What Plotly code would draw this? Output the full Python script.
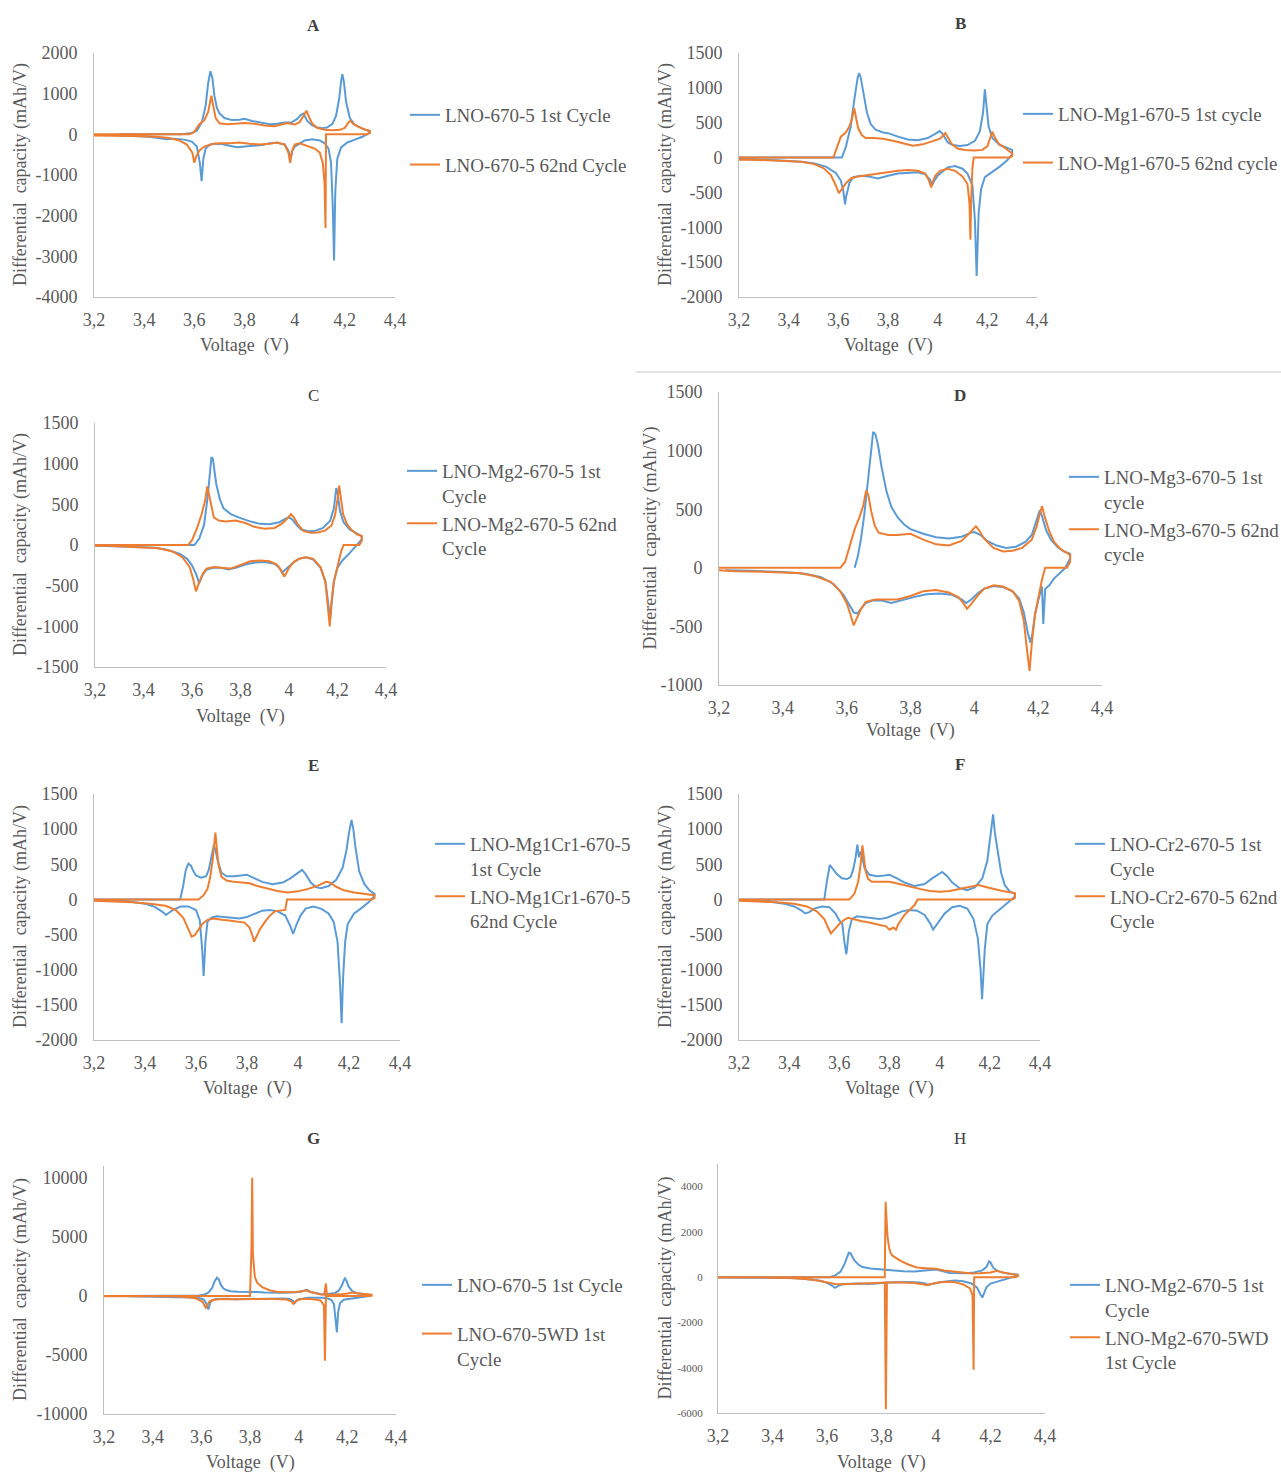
import plotly.graph_objects as go

# ---------------- data (V, dQ/dV in mAh/V) ----------------
X_TICKS = [3.2, 3.4, 3.6, 3.8, 4.0, 4.2, 4.4]
X_TICK_LABELS = ["3,2", "3,4", "3,6", "3,8", "4", "4,2", "4,4"]

A_YTICKS = [-4000, -3000, -2000, -1000, 0, 1000, 2000]
B_YTICKS = [-2000, -1500, -1000, -500, 0, 500, 1000, 1500]
C_YTICKS = [-1500, -1000, -500, 0, 500, 1000, 1500]
D_YTICKS = [-1000, -500, 0, 500, 1000, 1500]
E_YTICKS = [-2000, -1500, -1000, -500, 0, 500, 1000, 1500]
F_YTICKS = [-2000, -1500, -1000, -500, 0, 500, 1000, 1500]
G_YTICKS = [-10000, -5000, 0, 5000, 10000]
H_YTICKS = [-6000, -4000, -2000, 0, 2000, 4000]

# LNO-670-5 1st cycle (panels A and G)
A_1st = [(3.30, 0), (3.45, 0), (3.55, 5), (3.59, 30), (3.61, 90), (3.63, 300), (3.645, 700), (3.655, 1250),
         (3.664, 1550), (3.672, 1380), (3.68, 950), (3.69, 650), (3.70, 520), (3.72, 400), (3.75, 350),
         (3.78, 360), (3.80, 380), (3.83, 330), (3.86, 290), (3.90, 250), (3.93, 260), (3.96, 290), (3.99, 300),
         (4.01, 380), (4.025, 480), (4.035, 510), (4.05, 330), (4.07, 220), (4.09, 170), (4.11, 150), (4.13, 170),
         (4.15, 250), (4.165, 450), (4.178, 900), (4.185, 1300), (4.19, 1480), (4.196, 1300), (4.205, 800),
         (4.22, 400), (4.24, 230), (4.27, 140), (4.30, 70),
         (4.30, 40), (4.29, 0), (4.27, -60), (4.24, -130), (4.21, -200), (4.185, -320), (4.17, -600),
         (4.162, -1400), (4.157, -3100), (4.152, -1800), (4.145, -700), (4.135, -350), (4.12, -220), (4.10, -150),
         (4.07, -120), (4.04, -150), (4.02, -220), (4.0, -300), (3.99, -420), (3.984, -600), (3.975, -400),
         (3.96, -250), (3.93, -210), (3.90, -220), (3.87, -260), (3.84, -280), (3.80, -300), (3.77, -320),
         (3.74, -280), (3.71, -240), (3.68, -230), (3.66, -260), (3.645, -350), (3.636, -600), (3.629, -1150),
         (3.622, -700), (3.61, -300), (3.59, -180), (3.56, -130), (3.52, -110), (3.49, -120), (3.46, -90),
         (3.42, -60), (3.36, -40), (3.30, -30)]

A_62nd = [(3.20, 0), (3.40, 0), (3.58, 0), (3.60, 60), (3.62, 250), (3.64, 350), (3.655, 550), (3.668, 950),
          (3.675, 700), (3.685, 400), (3.70, 270), (3.73, 250), (3.76, 260), (3.80, 280), (3.84, 260), (3.88, 220),
          (3.92, 200), (3.95, 240), (3.97, 280), (4.00, 240), (4.02, 300), (4.035, 450), (4.047, 580),
          (4.057, 430), (4.07, 260), (4.09, 160), (4.12, 110), (4.15, 100), (4.18, 110), (4.20, 160), (4.215, 300),
          (4.222, 330), (4.235, 250), (4.26, 170), (4.28, 120), (4.30, 90),
          (4.30, 40), (4.29, 0), (4.20, 0), (4.125, 0), (4.123, -2300), (4.119, -1200), (4.112, -700),
          (4.10, -450), (4.08, -350), (4.05, -280), (4.02, -220), (4.00, -250), (3.99, -400), (3.982, -700),
          (3.975, -450), (3.96, -250), (3.93, -200), (3.90, -230), (3.86, -250), (3.82, -230), (3.78, -200),
          (3.74, -220), (3.70, -220), (3.67, -240), (3.64, -300), (3.62, -400), (3.607, -550), (3.60, -700),
          (3.592, -450), (3.57, -250), (3.54, -150), (3.50, -90), (3.45, -60), (3.35, -40), (3.25, -30), (3.20, -30)]

B_1st = [(3.20, 0), (3.40, 0), (3.60, 0), (3.614, 0), (3.63, 150), (3.65, 450), (3.665, 850), (3.678, 1150),
         (3.684, 1210), (3.69, 1150), (3.70, 950), (3.715, 650), (3.73, 480), (3.75, 400), (3.78, 360), (3.80, 350),
         (3.84, 300), (3.88, 260), (3.92, 250), (3.96, 280), (3.99, 340), (4.008, 380), (4.02, 340), (4.04, 220),
         (4.06, 180), (4.09, 165), (4.12, 180), (4.15, 240), (4.17, 380), (4.183, 650), (4.19, 980), (4.197, 750),
         (4.205, 450), (4.22, 280), (4.25, 180), (4.28, 140), (4.30, 110),
         (4.30, 50), (4.28, -40), (4.25, -130), (4.22, -200), (4.19, -280), (4.175, -450), (4.165, -800),
         (4.157, -1700), (4.15, -900), (4.14, -400), (4.12, -230), (4.10, -160), (4.07, -120), (4.04, -140),
         (4.02, -200), (4.00, -260), (3.985, -340), (3.977, -400), (3.97, -320), (3.95, -240), (3.92, -210),
         (3.88, -215), (3.84, -230), (3.80, -260), (3.76, -300), (3.72, -270), (3.69, -260), (3.66, -280),
         (3.645, -360), (3.632, -550), (3.627, -670), (3.62, -480), (3.61, -330), (3.59, -220), (3.55, -130),
         (3.50, -80), (3.45, -60), (3.35, -40), (3.25, -25), (3.20, -20)]

B_62nd = [(3.20, 0), (3.40, 0), (3.58, 0), (3.595, 150), (3.61, 300), (3.63, 360), (3.645, 450), (3.655, 560),
          (3.664, 710), (3.672, 560), (3.68, 420), (3.695, 320), (3.71, 280), (3.74, 280), (3.78, 270), (3.82, 240),
          (3.86, 200), (3.90, 170), (3.94, 190), (3.98, 230), (4.01, 270), (4.025, 330), (4.031, 350), (4.04, 300),
          (4.055, 200), (4.08, 130), (4.11, 110), (4.15, 100), (4.18, 110), (4.20, 160), (4.212, 280), (4.22, 370),
          (4.23, 290), (4.245, 200), (4.27, 140), (4.30, 60),
          (4.30, 20), (4.29, 0), (4.20, 0), (4.145, 0), (4.14, -150), (4.135, -600), (4.132, -1180), (4.128, -650),
          (4.12, -380), (4.10, -270), (4.07, -190), (4.04, -160), (4.01, -190), (3.99, -260), (3.98, -350),
          (3.974, -430), (3.965, -330), (3.95, -230), (3.92, -190), (3.88, -180), (3.84, -190), (3.80, -210),
          (3.76, -240), (3.72, -250), (3.68, -270), (3.65, -300), (3.63, -370), (3.615, -450), (3.602, -510),
          (3.59, -400), (3.57, -250), (3.54, -150), (3.50, -90), (3.45, -60), (3.35, -40), (3.25, -30), (3.20, -30)]

# LNO-Mg2-670-5 1st cycle (panels C and H)
C_1st = [(3.20, 0), (3.40, 0), (3.58, 0), (3.61, 0), (3.63, 80), (3.65, 250), (3.665, 600), (3.675, 950),
         (3.68, 1080), (3.686, 1060), (3.693, 900), (3.70, 750), (3.715, 560), (3.73, 450), (3.76, 380),
         (3.80, 330), (3.84, 290), (3.88, 260), (3.92, 255), (3.96, 280), (3.99, 330), (4.00, 340), (4.015, 310),
         (4.03, 250), (4.05, 190), (4.08, 170), (4.11, 175), (4.14, 210), (4.17, 300), (4.185, 450), (4.195, 700),
         (4.20, 650), (4.21, 420), (4.225, 280), (4.25, 190), (4.28, 140), (4.30, 110),
         (4.30, 70), (4.28, 0), (4.25, -100), (4.22, -190), (4.20, -280), (4.185, -450), (4.175, -700),
         (4.17, -900), (4.163, -750), (4.15, -450), (4.13, -280), (4.10, -180), (4.07, -150), (4.04, -170),
         (4.02, -210), (4.00, -260), (3.985, -300), (3.971, -340), (3.96, -280), (3.94, -230), (3.90, -210),
         (3.86, -215), (3.82, -240), (3.78, -280), (3.75, -300), (3.72, -280), (3.69, -280), (3.66, -300),
         (3.645, -360), (3.635, -430), (3.629, -470), (3.62, -380), (3.60, -250), (3.58, -170), (3.55, -110),
         (3.50, -60), (3.45, -35), (3.35, -20), (3.25, -10), (3.20, -10)]

C_62nd = [(3.20, 0), (3.40, 0), (3.584, 0), (3.60, 60), (3.62, 200), (3.64, 380), (3.655, 560), (3.663, 720),
          (3.67, 620), (3.68, 450), (3.69, 340), (3.71, 300), (3.74, 290), (3.78, 300), (3.82, 270), (3.86, 220),
          (3.90, 200), (3.94, 210), (3.97, 260), (3.995, 330), (4.008, 380), (4.02, 340), (4.035, 260),
          (4.06, 170), (4.09, 150), (4.12, 155), (4.15, 180), (4.175, 240), (4.19, 370), (4.20, 560), (4.207, 730),
          (4.213, 600), (4.223, 380), (4.24, 250), (4.26, 180), (4.28, 130), (4.30, 110),
          (4.30, 50), (4.29, 0), (4.26, 0), (4.225, 0), (4.215, -80), (4.20, -250), (4.185, -450), (4.175, -700),
          (4.168, -1000), (4.16, -750), (4.15, -450), (4.13, -270), (4.10, -170), (4.07, -150), (4.04, -170),
          (4.02, -210), (4.00, -280), (3.988, -350), (3.98, -390), (3.97, -320), (3.95, -240), (3.92, -200),
          (3.88, -190), (3.84, -200), (3.80, -250), (3.76, -290), (3.72, -280), (3.69, -270), (3.66, -290),
          (3.645, -350), (3.63, -460), (3.616, -570), (3.605, -420), (3.59, -270), (3.56, -150), (3.52, -80),
          (3.46, -40), (3.35, -20), (3.25, -10), (3.20, -10)]

D_1st = [(3.625, 0), (3.635, 100), (3.645, 250), (3.655, 450), (3.665, 700), (3.675, 950), (3.683, 1160),
         (3.69, 1140), (3.698, 1050), (3.71, 850), (3.725, 650), (3.74, 520), (3.76, 430), (3.78, 370),
         (3.80, 330), (3.84, 290), (3.88, 260), (3.92, 250), (3.96, 265), (3.99, 300), (4.00, 305), (4.02, 280),
         (4.04, 230), (4.07, 190), (4.10, 170), (4.13, 180), (4.16, 220), (4.18, 280), (4.195, 400), (4.205, 490),
         (4.212, 440), (4.225, 320), (4.24, 240), (4.26, 180), (4.28, 140), (4.30, 120),
         (4.30, 80), (4.285, 0), (4.27, -40), (4.25, -90), (4.235, -150), (4.222, -180), (4.216, -480),
         (4.212, -160), (4.20, -280), (4.19, -400), (4.182, -560), (4.176, -640), (4.168, -560), (4.155, -380),
         (4.14, -260), (4.12, -200), (4.09, -165), (4.06, -155), (4.03, -180), (4.01, -220), (3.99, -270),
         (3.975, -300), (3.96, -270), (3.93, -230), (3.89, -220), (3.85, -225), (3.81, -250), (3.77, -280),
         (3.74, -300), (3.71, -280), (3.68, -280), (3.66, -300), (3.645, -350), (3.633, -390), (3.622, -380),
         (3.61, -320), (3.59, -230), (3.56, -140), (3.52, -80), (3.47, -50), (3.40, -35), (3.30, -25), (3.22, -20)]

D_62nd = [(3.20, 0), (3.40, 0), (3.58, 0), (3.595, 50), (3.61, 180), (3.625, 330), (3.64, 430), (3.652, 530),
          (3.661, 660), (3.668, 620), (3.677, 480), (3.688, 360), (3.70, 300), (3.73, 280), (3.76, 280),
          (3.80, 290), (3.84, 240), (3.88, 200), (3.92, 190), (3.96, 230), (3.99, 310), (4.005, 355), (4.015, 320),
          (4.03, 250), (4.06, 170), (4.09, 140), (4.12, 145), (4.15, 170), (4.18, 240), (4.195, 350), (4.205, 460),
          (4.212, 525), (4.22, 440), (4.235, 310), (4.25, 220), (4.27, 160), (4.30, 110),
          (4.30, 50), (4.29, 0), (4.26, 0), (4.222, 0), (4.212, -100), (4.20, -250), (4.19, -400), (4.18, -650),
          (4.173, -880), (4.165, -700), (4.155, -450), (4.14, -280), (4.12, -200), (4.09, -160), (4.06, -150),
          (4.03, -180), (4.01, -240), (3.99, -310), (3.977, -350), (3.965, -300), (3.95, -250), (3.92, -210),
          (3.88, -190), (3.84, -200), (3.80, -240), (3.76, -270), (3.72, -270), (3.69, -270), (3.66, -290),
          (3.645, -350), (3.632, -430), (3.622, -490), (3.612, -400), (3.60, -300), (3.58, -200), (3.55, -120),
          (3.50, -70), (3.45, -45), (3.35, -35), (3.25, -30), (3.20, -20)]

E_1st = [(3.20, 0), (3.40, 0), (3.538, 0), (3.55, 200), (3.56, 420), (3.57, 510), (3.58, 480), (3.59, 400),
         (3.60, 340), (3.62, 310), (3.64, 330), (3.65, 420), (3.66, 600), (3.67, 770), (3.677, 700), (3.685, 550),
         (3.70, 380), (3.72, 330), (3.75, 330), (3.78, 340), (3.80, 350), (3.83, 300), (3.86, 250), (3.90, 215),
         (3.94, 240), (3.97, 300), (4.00, 380), (4.016, 420), (4.03, 360), (4.05, 240), (4.07, 175), (4.09, 160),
         (4.12, 190), (4.15, 280), (4.175, 450), (4.19, 700), (4.20, 950), (4.21, 1130), (4.217, 1000),
         (4.225, 750), (4.24, 400), (4.26, 220), (4.28, 130), (4.30, 80),
         (4.30, 50), (4.28, -30), (4.25, -120), (4.22, -200), (4.195, -350), (4.185, -600), (4.177, -1100),
         (4.171, -1760), (4.165, -1200), (4.155, -600), (4.14, -320), (4.12, -200), (4.09, -130), (4.06, -100),
         (4.03, -130), (4.01, -230), (3.995, -350), (3.981, -490), (3.97, -380), (3.95, -230), (3.92, -170),
         (3.89, -150), (3.86, -160), (3.83, -200), (3.80, -250), (3.77, -270), (3.74, -260), (3.71, -240),
         (3.68, -240), (3.66, -260), (3.645, -320), (3.637, -600), (3.63, -1090), (3.624, -700), (3.615, -300),
         (3.60, -150), (3.57, -100), (3.54, -100), (3.51, -150), (3.49, -200), (3.482, -220), (3.47, -180),
         (3.44, -110), (3.40, -60), (3.35, -35), (3.28, -20), (3.20, -10)]

E_62nd = [(3.20, 0), (3.40, 0), (3.61, 0), (3.63, 60), (3.645, 150), (3.655, 300), (3.665, 550), (3.672, 800),
          (3.676, 950), (3.681, 750), (3.688, 500), (3.70, 320), (3.72, 270), (3.75, 250), (3.78, 240), (3.81, 230),
          (3.84, 190), (3.88, 150), (3.92, 120), (3.96, 100), (4.00, 115), (4.04, 150), (4.08, 200), (4.11, 250),
          (4.125, 240), (4.15, 180), (4.18, 130), (4.22, 100), (4.26, 80), (4.30, 60),
          (4.30, 20), (4.29, 0), (4.20, 0), (4.10, 0), (4.00, 0), (3.957, 0), (3.95, -150), (3.93, -160),
          (3.909, -170), (3.89, -230), (3.87, -320), (3.85, -430), (3.835, -560), (3.828, -600), (3.82, -500),
          (3.81, -400), (3.79, -330), (3.76, -310), (3.73, -300), (3.70, -290), (3.67, -270), (3.645, -290),
          (3.625, -350), (3.61, -430), (3.595, -510), (3.583, -530), (3.57, -420), (3.55, -260), (3.52, -150),
          (3.48, -90), (3.42, -60), (3.35, -40), (3.25, -25), (3.20, -20)]

F_1st = [(3.20, 0), (3.40, 0), (3.54, 0), (3.55, 250), (3.562, 490), (3.575, 430), (3.59, 360), (3.61, 300),
         (3.63, 290), (3.645, 320), (3.655, 420), (3.665, 600), (3.672, 780), (3.678, 600), (3.685, 680),
         (3.692, 600), (3.70, 450), (3.72, 350), (3.75, 330), (3.78, 340), (3.80, 350), (3.83, 300), (3.86, 240),
         (3.90, 190), (3.94, 220), (3.97, 300), (4.00, 370), (4.01, 390), (4.03, 330), (4.05, 240), (4.08, 160),
         (4.11, 130), (4.14, 170), (4.17, 300), (4.19, 550), (4.205, 950), (4.213, 1210), (4.22, 950), (4.23, 700),
         (4.245, 380), (4.26, 200), (4.28, 110), (4.30, 80),
         (4.30, 40), (4.27, -50), (4.24, -140), (4.21, -230), (4.19, -350), (4.18, -700), (4.174, -1100),
         (4.169, -1420), (4.163, -1000), (4.152, -550), (4.135, -280), (4.11, -130), (4.08, -90), (4.05, -110),
         (4.02, -200), (4.00, -300), (3.985, -390), (3.974, -430), (3.962, -340), (3.94, -220), (3.91, -160),
         (3.88, -150), (3.85, -170), (3.82, -220), (3.79, -260), (3.76, -280), (3.73, -270), (3.70, -250),
         (3.67, -240), (3.65, -280), (3.638, -450), (3.628, -780), (3.62, -600), (3.612, -350), (3.60, -300),
         (3.585, -200), (3.56, -110), (3.53, -100), (3.50, -130), (3.48, -180), (3.464, -200), (3.45, -160),
         (3.42, -100), (3.38, -60), (3.32, -30), (3.25, -15), (3.20, -10)]

F_62nd = [(3.20, 0), (3.40, 0), (3.60, 0), (3.64, 0), (3.66, 80), (3.675, 250), (3.685, 500), (3.692, 770),
          (3.698, 600), (3.705, 400), (3.715, 290), (3.73, 250), (3.76, 250), (3.80, 250), (3.84, 220), (3.88, 180),
          (3.92, 150), (3.96, 120), (4.00, 110), (4.04, 120), (4.08, 150), (4.12, 180), (4.156, 205), (4.18, 180),
          (4.21, 150), (4.25, 120), (4.30, 90),
          (4.30, 20), (4.29, 0), (4.20, 0), (4.00, 0), (3.912, 0), (3.90, -80), (3.879, -150), (3.86, -220),
          (3.845, -300), (3.834, -360), (3.826, -430), (3.815, -400), (3.80, -430), (3.785, -380), (3.77, -370),
          (3.75, -350), (3.73, -340), (3.71, -320), (3.69, -310), (3.67, -290), (3.65, -270), (3.635, -260),
          (3.62, -290), (3.60, -350), (3.58, -430), (3.566, -484), (3.555, -400), (3.54, -280), (3.51, -170),
          (3.47, -100), (3.42, -60), (3.35, -40), (3.25, -25), (3.20, -20)]

G_WD = [(3.20, 0), (3.40, 0), (3.60, 0), (3.80, 0), (3.806, 4000), (3.809, 10000), (3.812, 3500), (3.816, 2000),
        (3.82, 1600), (3.83, 1100), (3.85, 750), (3.88, 480), (3.91, 360), (3.95, 310), (3.99, 330), (4.02, 420),
        (4.03, 480), (4.045, 350), (4.07, 200), (4.09, 120), (4.105, 100), (4.112, 1050), (4.116, 100),
        (4.14, 100), (4.17, 130), (4.20, 200), (4.22, 280), (4.24, 220), (4.27, 150), (4.30, 100),
        (4.30, 30), (4.29, 0), (4.20, 0), (4.112, 0), (4.108, -5480), (4.104, -800), (4.09, -380), (4.06, -280),
        (4.03, -250), (4.00, -300), (3.985, -500), (3.978, -680), (3.97, -450), (3.95, -300), (3.90, -260),
        (3.85, -280), (3.80, -300), (3.75, -280), (3.70, -270), (3.66, -300), (3.635, -450), (3.618, -1000),
        (3.605, -500), (3.58, -220), (3.55, -120), (3.50, -60), (3.40, -30), (3.30, -20), (3.20, -20)]

H_WD = [(3.20, 0), (3.40, 0), (3.60, 0), (3.812, 0), (3.815, 3330), (3.818, 2600), (3.822, 1800), (3.828, 1300),
        (3.833, 1080), (3.84, 950), (3.85, 880), (3.87, 720), (3.90, 550), (3.93, 430), (3.96, 400), (4.00, 370),
        (4.03, 300), (4.06, 250), (4.10, 200), (4.13, 160), (4.16, 170), (4.20, 210), (4.225, 280), (4.24, 220),
        (4.27, 150), (4.30, 100),
        (4.30, 40), (4.29, 0), (4.20, 0), (4.14, 0), (4.138, -4090), (4.134, -800), (4.125, -500), (4.10, -320),
        (4.07, -220), (4.04, -200), (4.01, -240), (3.98, -330), (3.965, -350), (3.95, -310), (3.92, -260),
        (3.88, -240), (3.85, -230), (3.82, -240), (3.816, -5830), (3.812, -240), (3.78, -260), (3.74, -280),
        (3.70, -300), (3.66, -310), (3.63, -300), (3.60, -220), (3.56, -140), (3.52, -80), (3.47, -40),
        (3.40, -20), (3.30, -10), (3.20, -10)]

# ---------------- styling ----------------
W, H = 1281, 1472
BLUE, ORANGE = "#5B9BD5", "#ED7D31"
GRAY_TXT, AX_LINE = "#595959", "#BFBFBF"
FONT = "Liberation Serif, Times New Roman, serif"
LEG_FS = 19

# lx = legend text start (px), ly = centre of first legend line (px)
panels = [
    dict(letter="A", bold=True, xd=(94, 395), yd=(53, 297), yr=(-4000, 2000), yt=A_YTICKS, tx=313, ty=25,
         ytx=20, xty=346, lx=445, ly=114, gap=22, yfs=18,
         series=[(A_1st, BLUE, "LNO-670-5 1st Cycle"), (A_62nd, ORANGE, "LNO-670-5 62nd Cycle")]),
    dict(letter="B", bold=True, xd=(739, 1037), yd=(53, 297), yr=(-2000, 1500), yt=B_YTICKS, tx=960, ty=24,
         ytx=665, xty=346, lx=1058, ly=113, gap=21, yfs=18,
         series=[(B_1st, BLUE, "LNO-Mg1-670-5 1st cycle"), (B_62nd, ORANGE, "LNO-Mg1-670-5 62nd cycle")]),
    dict(letter="C", bold=False, xd=(95, 386), yd=(423, 667), yr=(-1500, 1500), yt=C_YTICKS, tx=313, ty=395,
         ytx=20, xty=716, lx=442, ly=470, gap=0, yfs=18,
         series=[(C_1st, BLUE, "LNO-Mg2-670-5 1st<br>Cycle"), (C_62nd, ORANGE, "LNO-Mg2-670-5 62nd<br>Cycle")]),
    dict(letter="D", bold=True, xd=(719, 1102), yd=(392, 685), yr=(-1000, 1500), yt=D_YTICKS, tx=960, ty=395,
         ytx=650, xty=730, lx=1104, ly=476, gap=0, yfs=18,
         series=[(D_1st, BLUE, "LNO-Mg3-670-5 1st<br>cycle"), (D_62nd, ORANGE, "LNO-Mg3-670-5 62nd<br>cycle")]),
    dict(letter="E", bold=True, xd=(94, 400), yd=(794, 1040), yr=(-2000, 1500), yt=E_YTICKS, tx=313, ty=765,
         ytx=20, xty=1088, lx=470, ly=843, gap=0, yfs=18,
         series=[(E_1st, BLUE, "LNO-Mg1Cr1-670-5<br>1st Cycle"), (E_62nd, ORANGE, "LNO-Mg1Cr1-670-5<br>62nd Cycle")]),
    dict(letter="F", bold=True, xd=(739, 1040), yd=(794, 1040), yr=(-2000, 1500), yt=F_YTICKS, tx=960, ty=764,
         ytx=665, xty=1088, lx=1110, ly=843, gap=0, yfs=18,
         series=[(F_1st, BLUE, "LNO-Cr2-670-5 1st<br>Cycle"), (F_62nd, ORANGE, "LNO-Cr2-670-5 62nd<br>Cycle")]),
    dict(letter="G", bold=True, xd=(104, 396), yd=(1166, 1414), yr=(-10000, 11000), yt=G_YTICKS, tx=313, ty=1138,
         ytx=20, xty=1462, lx=457, ly=1284, gap=21, yfs=18,
         series=[(A_1st, BLUE, "LNO-670-5 1st Cycle"), (G_WD, ORANGE, "LNO-670-5WD 1st<br>Cycle")]),
    dict(letter="H", bold=False, xd=(718, 1045), yd=(1164, 1413), yr=(-6000, 5000), yt=H_YTICKS, tx=960, ty=1138,
         ytx=665, xty=1462, lx=1105, ly=1284, gap=0, yfs=11,
         series=[(C_1st, BLUE, "LNO-Mg2-670-5 1st<br>Cycle"), (H_WD, ORANGE, "LNO-Mg2-670-5WD<br>1st Cycle")]),
]


def fx(p):
    return p / W


def fy(p):
    return 1 - p / H


fig = go.Figure()
layout = dict(width=W, height=H, margin=dict(l=0, r=0, t=0, b=0, autoexpand=False), paper_bgcolor="white",
              plot_bgcolor="white", font=dict(family=FONT, color=GRAY_TXT), showlegend=True)
annotations, shapes = [], []

for i, p in enumerate(panels, start=1):
    sfx = "" if i == 1 else str(i)
    xa, ya, lg = "xaxis" + sfx, "yaxis" + sfx, "legend" + sfx
    for k, (pts, color, name) in enumerate(p["series"]):
        v, q = zip(*pts)
        fig.add_trace(go.Scatter(x=list(v), y=list(q), mode="lines", name=name,
                                 line=dict(color=color, width=2), xaxis="x" + sfx, yaxis="y" + sfx,
                                 legend=lg, legendgroup=f"{p['letter']}{k}", hoverinfo="skip"))
    layout[xa] = dict(domain=[fx(p["xd"][0]), fx(p["xd"][1])], range=[3.2, 4.4], anchor="y" + sfx,
                      tickmode="array", tickvals=X_TICKS, ticktext=X_TICK_LABELS, showline=True,
                      linecolor=AX_LINE, linewidth=1, showgrid=False, zeroline=False, ticks="",
                      tickfont=dict(size=18, color=GRAY_TXT, family=FONT), ticklabelstandoff=6,
                      fixedrange=True, automargin=False)
    layout[ya] = dict(domain=[fy(p["yd"][1]), fy(p["yd"][0])], range=list(p["yr"]), anchor="x" + sfx,
                      tickmode="array", tickvals=p["yt"], ticktext=[str(t) for t in p["yt"]], showline=True,
                      linecolor=AX_LINE, linewidth=1, showgrid=False, zeroline=False, ticks="",
                      tickfont=dict(size=p["yfs"], color=GRAY_TXT, family=FONT), ticklabelstandoff=12,
                      fixedrange=True, automargin=False)
    layout[lg] = dict(x=fx(p["lx"] - 40), y=fy(p["ly"] - 18), xref="container", yref="container",
                      xanchor="left", yanchor="top",
                      bgcolor="rgba(0,0,0,0)", font=dict(size=LEG_FS, color=GRAY_TXT, family=FONT),
                      tracegroupgap=p["gap"], valign="top", traceorder="grouped")
    title_txt = f"<b>{p['letter']}</b>" if p["bold"] else p["letter"]
    annotations.append(dict(x=fx(p["tx"]), y=fy(p["ty"]), xref="paper", yref="paper", text=title_txt,
                            showarrow=False, font=dict(size=17, color="#404040", family=FONT),
                            xanchor="center", yanchor="middle"))
    annotations.append(dict(x=fx((p["xd"][0] + p["xd"][1]) / 2), y=fy(p["xty"]), xref="paper", yref="paper",
                            text="Voltage  (V)", showarrow=False, xanchor="center", yanchor="middle",
                            font=dict(size=18, color=GRAY_TXT, family=FONT)))
    annotations.append(dict(x=fx(p["ytx"]), y=fy((p["yd"][0] + p["yd"][1]) / 2), xref="paper", yref="paper",
                            text="Differential  capacity (mAh/V)", showarrow=False, textangle=-90,
                            xanchor="center", yanchor="middle", font=dict(size=18, color=GRAY_TXT, family=FONT)))

shapes.append(dict(type="line", xref="paper", yref="paper", x0=fx(636), x1=1, y0=fy(372), y1=fy(372),
                   line=dict(color="#C8C8C8", width=1)))
layout["annotations"] = annotations
layout["shapes"] = shapes
fig.update_layout(**layout)
fig.write_html("out.html", config={"displayModeBar": False},
               post_script="document.body.style.margin='0px';")
